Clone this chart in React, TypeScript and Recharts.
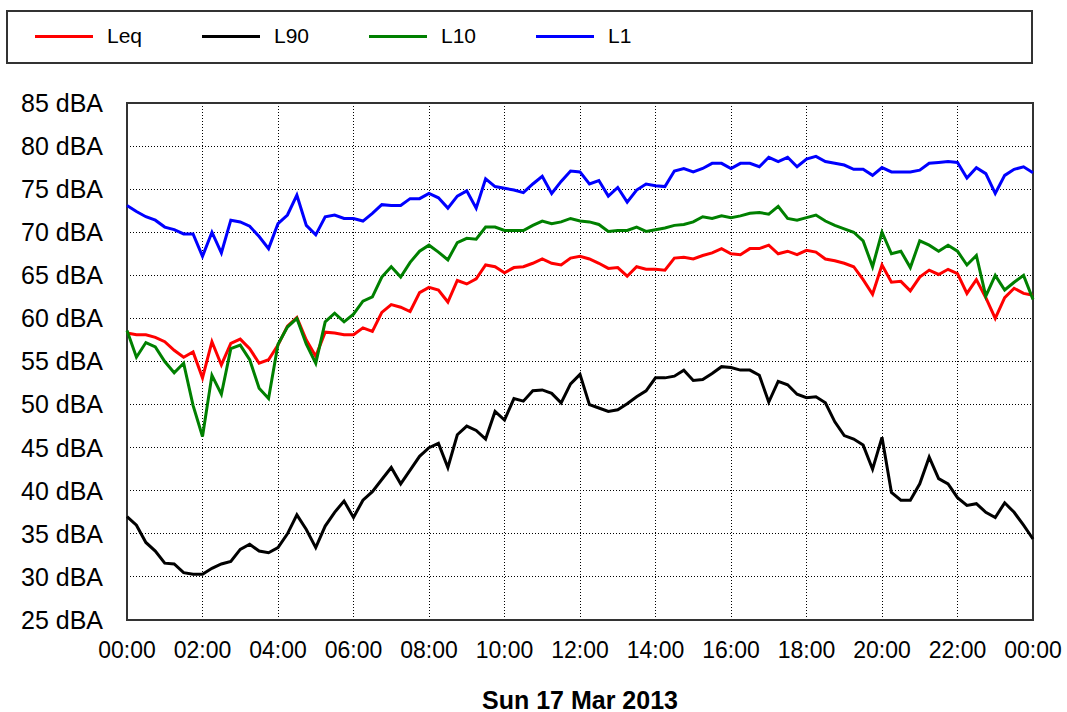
import { LineChart, Line, XAxis, YAxis, CartesianGrid, ReferenceArea } from 'recharts';

// 15 minute readings, Sun 17 Mar 2013, 00:00 .. 24:00
const STEP_MIN = 15;

const leq = [
    58.3, 58.1, 58.1, 57.8, 57.3, 56.3, 55.5, 56.1, 53.1, 57.3, 54.6, 57.1, 57.6, 56.5, 54.8, 55.2, 56.9,
    59.1, 60.1, 57.5, 55.6, 58.4, 58.3, 58.1, 58.1, 58.9, 58.5, 60.7, 61.6, 61.3, 60.8, 63.0, 63.6,
    63.3, 61.9, 64.4, 64.0, 64.6, 66.2, 66.0, 65.3, 65.9, 66.0, 66.4, 66.9, 66.4, 66.2, 67.0, 67.2,
    66.9, 66.4, 65.8, 65.9, 64.9, 66.0, 65.7, 65.7, 65.6, 67.0, 67.1, 66.9, 67.3, 67.6, 68.1, 67.5,
    67.4, 68.1, 68.1, 68.5, 67.5, 67.8, 67.4, 67.9, 67.7, 66.9, 66.7, 66.4, 66.0, 64.5, 62.8, 66.2,
    64.2, 64.3, 63.2, 64.8, 65.6, 65.1, 65.7, 65.2, 62.9, 64.5, 62.4, 60.0, 62.4, 63.5, 62.9, 62.7,
];

const l90 = [
    37.0, 36.0, 34.0, 33.0, 31.6, 31.5, 30.5, 30.3, 30.3, 31.0, 31.5, 31.8, 33.2, 33.8, 33.0, 32.8, 33.4,
    35.0, 37.2, 35.5, 33.4, 35.9, 37.5, 38.8, 36.9, 38.9, 39.9, 41.3, 42.7, 40.8, 42.4, 44.0, 45.0,
    45.5, 42.7, 46.5, 47.5, 47.0, 46.0, 49.2, 48.2, 50.7, 50.4, 51.6, 51.7, 51.3, 50.2, 52.4, 53.5,
    50.0, 49.6, 49.2, 49.4, 50.1, 50.9, 51.6, 53.1, 53.1, 53.3, 54.0, 52.8, 52.9, 53.6, 54.4, 54.3,
    54.0, 54.0, 53.4, 50.3, 52.7, 52.3, 51.2, 50.8, 50.9, 50.2, 48.0, 46.4, 46.0, 45.3, 42.5, 46.2,
    39.8, 38.9, 38.9, 40.8, 43.9, 41.4, 40.8, 39.2, 38.3, 38.5, 37.5, 36.9, 38.6, 37.5, 36.0, 34.4,
];

const l10 = [
    58.6, 55.5, 57.2, 56.7, 55.0, 53.7, 54.8, 49.9, 46.3, 53.4, 51.2, 56.5, 56.9, 55.2, 51.9, 50.7, 57.0,
    59.0, 60.0, 57.0, 54.8, 59.6, 60.6, 59.6, 60.5, 62.0, 62.5, 64.8, 66.0, 64.8, 66.5, 67.8, 68.5,
    67.7, 66.8, 68.8, 69.3, 69.2, 70.6, 70.6, 70.2, 70.2, 70.2, 70.8, 71.3, 71.0, 71.2, 71.6, 71.3,
    71.2, 70.9, 70.1, 70.2, 70.2, 70.6, 70.1, 70.3, 70.5, 70.8, 70.9, 71.2, 71.8, 71.6, 71.9, 71.7,
    71.9, 72.2, 72.3, 72.1, 73.0, 71.6, 71.4, 71.7, 72.0, 71.3, 70.8, 70.4, 70.0, 69.0, 66.0, 70.0,
    67.5, 67.8, 65.9, 69.0, 68.5, 67.8, 68.5, 67.8, 66.2, 67.3, 62.6, 65.0, 63.3, 64.2, 65.0, 62.2,
];

const l1 = [
    73.1, 72.4, 71.8, 71.4, 70.6, 70.3, 69.8, 69.8, 67.2, 70.0, 67.6, 71.4, 71.2, 70.7, 69.5, 68.1, 71.0,
    72.0, 74.3, 70.8, 69.7, 71.8, 72.0, 71.6, 71.6, 71.3, 72.2, 73.2, 73.1, 73.1, 73.9, 73.9, 74.5,
    74.0, 72.8, 74.2, 74.8, 72.8, 76.2, 75.3, 75.1, 74.9, 74.6, 75.6, 76.5, 74.5, 75.9, 77.1, 77.0,
    75.6, 76.0, 74.2, 75.2, 73.5, 74.9, 75.6, 75.4, 75.3, 77.1, 77.4, 77.0, 77.4, 78.0, 78.0, 77.4,
    78.0, 78.0, 77.6, 78.7, 78.2, 78.7, 77.6, 78.5, 78.8, 78.2, 78.0, 77.8, 77.3, 77.3, 76.6, 77.5,
    77.0, 77.0, 77.0, 77.2, 78.0, 78.1, 78.2, 78.1, 76.3, 77.5, 76.8, 74.5, 76.6, 77.3, 77.6, 76.9,
];

const xTicks = [0, 120, 240, 360, 480, 600, 720, 840, 960, 1080, 1200, 1320, 1440];
const xTickLabels = ['00:00', '02:00', '04:00', '06:00', '08:00', '10:00', '12:00', '14:00', '16:00', '18:00', '20:00', '22:00', '00:00'];
const yTicks = [25, 30, 35, 40, 45, 50, 55, 60, 65, 70, 75, 80, 85];
const dateLabel = 'Sun 17 Mar 2013';

const series = [
    { key: 'leq', name: 'Leq', color: '#ff0000' },
    { key: 'l90', name: 'L90', color: '#000000' },
    { key: 'l10', name: 'L10', color: '#008000' },
    { key: 'l1', name: 'L1', color: '#0000ff' },
];

const data = leq.map((v, i) => ({ t: i * STEP_MIN, leq: v, l90: l90[i], l10: l10[i], l1: l1[i] }));

const FONT = '"Liberation Sans", Arial, sans-serif';

export default function App() {
    return (
        <div style={{ position: 'absolute', left: 0, top: 0, width: 1067, height: 712, background: '#fff', fontFamily: FONT }}>
            {/* legend box */}
            <div style={{ position: 'absolute', left: 6, top: 10, width: 1027, height: 54, border: '2px solid #333', boxSizing: 'border-box' }}>
                {series.map((s, i) => (
                    <div key={s.key}>
                        <div style={{ position: 'absolute', left: 27 + i * 167, top: 23, width: 58, height: 3, background: s.color }} />
                        <div style={{ position: 'absolute', left: 99 + i * 167, top: 12, fontSize: 21, lineHeight: '24px', color: '#000' }}>{s.name}</div>
                    </div>
                ))}
            </div>

            <LineChart width={1067} height={712} data={data} margin={{ top: 103, right: 34, bottom: 32, left: 0 }}>
                <CartesianGrid stroke="#000" strokeDasharray="1 2" shapeRendering="crispEdges" />
                <XAxis
                    dataKey="t"
                    type="number"
                    domain={[0, 1440]}
                    ticks={xTicks}
                    tickFormatter={(v: number) => xTickLabels[xTicks.indexOf(v)]}
                    axisLine={false}
                    tickLine={false}
                    tickSize={0}
                    tickMargin={22}
                    height={60}
                    interval={0}
                    tick={{ fontSize: 23, fill: '#000', fontFamily: FONT }}
                />
                <YAxis
                    domain={[25, 85]}
                    ticks={yTicks}
                    tickFormatter={(v: number) => `${v} dBA`}
                    axisLine={false}
                    tickLine={false}
                    tickSize={0}
                    tickMargin={24}
                    width={127}
                    interval={0}
                    allowDataOverflow
                    tick={{ fontSize: 25, fill: '#000', fontFamily: FONT }}
                />
                <ReferenceArea x1={0} x2={1440} y1={25} y2={85} fill="none" fillOpacity={0} stroke="#333" strokeWidth={2} />
                {series.map((s) => (
                    <Line
                        key={s.key}
                        dataKey={s.key}
                        name={s.name}
                        stroke={s.color}
                        strokeWidth={3}
                        dot={false}
                        type="linear"
                        isAnimationActive={false}
                    />
                ))}
            </LineChart>

            <div style={{ position: 'absolute', left: 127, top: 688, width: 906, textAlign: 'center', fontSize: 25, lineHeight: '25px', fontWeight: 'bold', color: '#000' }}>
                {dateLabel}
            </div>
        </div>
    );
}
